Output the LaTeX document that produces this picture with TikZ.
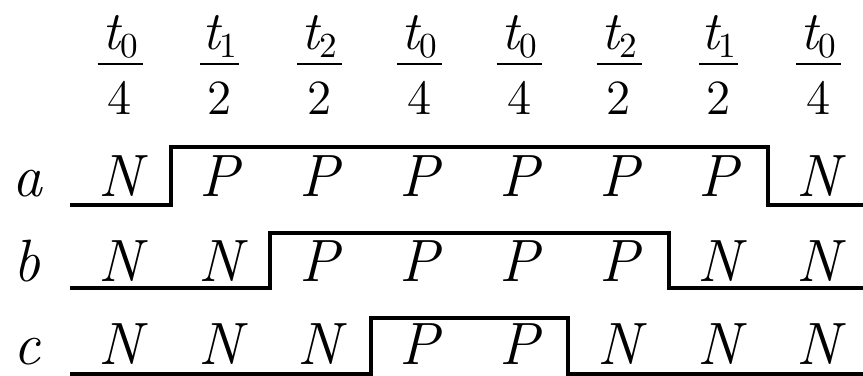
\documentclass[tikz,border=0pt]{standalone}
\begin{document}
\begin{tikzpicture}[x=0.01cm,y=-0.01cm,
    level/.style={line width=0.9pt,line join=miter},
    sym/.style={font=\fontsize{17}{18}\selectfont\itshape,anchor=base,inner sep=0pt},
    num/.style={font=\fontsize{14}{15}\selectfont,anchor=base,inner sep=0pt},
    fracbar/.style={line width=0.7pt}]
  \useasboundingbox (0,0) rectangle (863,376);
  % fraction headings
  \foreach \s/\d/\w [count=\k from 0] in {0/4/22.5,1/2/19.5,2/2/22.5,0/4/22.5,0/4/22.5,2/2/22.5,1/2/19.5,0/4/22.5} {
    \pgfmathsetmacro{\cx}{120+99.8*\k}
    \node[num] (top\k) at (\cx,50) {{\fontsize{15.5}{16}\selectfont\itshape t}\raisebox{-2pt}{\fontsize{10}{10}\selectfont\s}};
    \node[num] (bot\k) at (\cx,115) {\d};
    \draw[fracbar] (\cx-\w,64) -- (\cx+\w,64);
  }
  % row letters and states
  \foreach \lab/\y/\vals in {a/197/{N,P,P,P,P,P,P,N},b/282/{N,N,P,P,P,P,N,N},c/365/{N,N,N,P,P,N,N,N}} {
    \node[sym] (\lab) at (27,\y) {\lab};
    \foreach \v [count=\k from 0] in \vals {
      \pgfmathsetmacro{\cx}{120+99.8*\k}
      \node[sym] (\lab\k) at (\cx,\y) {\v};
    }
  }
  % waveforms
  \draw[level] (70,205) -| (171,147) -| (768,205) -- (863,205);
  \draw[level] (70,288) -| (270,233) -| (669,288) -- (863,288);
  \draw[level] (70,374) -| (371,318) -| (568,374) -- (863,374);
\end{tikzpicture}
\end{document}
